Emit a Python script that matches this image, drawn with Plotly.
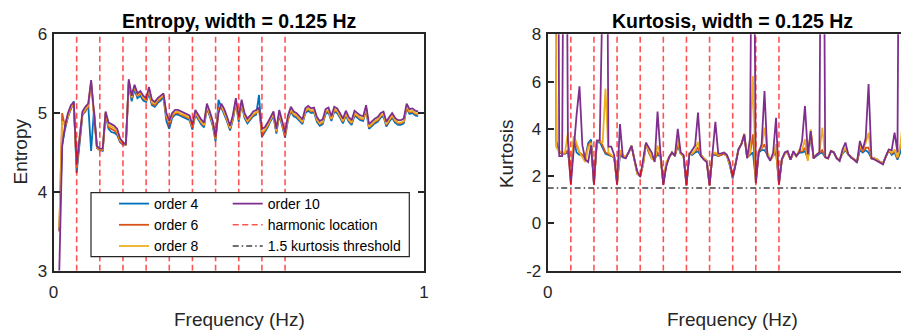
import numpy as np
import plotly.graph_objects as go

# ---------------- data ----------------
freq = (np.arange(2, 127) / 128).tolist()          # frequency grid (Hz)
harmonics = [0.0625, 0.125, 0.1875, 0.25, 0.3125, 0.375, 0.4375, 0.5, 0.5625, 0.625]
threshold = 1.5

entropy_o4 = [3.50, 4.60, 4.80, 4.95, 5.05, 5.15, 4.24, 4.66, 4.98, 5.02, 5.10, 4.52, 5.05, 4.56, 4.53, 4.52, 4.98, 4.80, 4.76, 4.75, 4.72, 4.63, 4.60, 4.60,
              5.38, 5.15, 5.30, 5.19, 5.22, 5.16, 5.14, 5.25, 5.10, 5.08, 5.13, 5.16, 5.20, 4.90, 4.80,
              4.94, 4.98, 4.98, 4.96, 4.94, 4.93, 4.91, 4.79, 4.98, 4.92,
              4.86, 4.82, 5.06, 4.96, 4.84, 4.64, 5.17, 5.07, 4.99, 4.89,
              4.78, 4.92, 5.13, 4.89, 5.11, 4.94, 4.87, 4.91, 4.96, 4.98,
              5.23, 4.70, 4.76, 4.82, 4.90, 4.96, 4.74, 4.98, 4.84, 4.69,
              4.91, 5.02, 4.96, 4.94, 4.90, 4.86, 5.00, 5.03, 5.00, 5.01,
              4.89, 4.84, 4.86, 4.99, 5.01, 4.90, 5.02, 5.00, 4.94, 4.87,
              4.97, 4.89, 4.85, 4.97, 4.94, 4.91, 4.90, 5.04, 4.80, 4.84,
              4.87, 4.89, 4.94, 4.96, 4.83, 4.89, 4.94, 4.88, 4.85, 4.85,
              4.87, 5.06, 4.99, 5.00, 4.97, 4.96]
entropy_o6 = [3.50, 5.00, 4.82, 4.96, 5.06, 5.12, 4.30, 4.68, 4.98, 5.03, 5.08, 5.38, 4.96, 4.56, 4.53, 4.53, 5.00, 4.82, 4.80, 4.78, 4.74, 4.64, 4.61, 4.60,
              5.40, 5.19, 5.33, 5.22, 5.25, 5.19, 5.16, 5.29, 5.12, 5.10, 5.15, 5.18, 5.22, 4.95, 4.86,
              4.96, 5.00, 5.00, 4.98, 4.96, 4.95, 4.93, 4.81, 5.00, 4.94,
              4.88, 4.84, 5.08, 4.98, 4.86, 4.67, 5.06, 5.08, 5.01, 4.91,
              4.80, 4.94, 5.15, 4.91, 5.13, 4.96, 4.89, 4.93, 4.98, 5.00,
              5.06, 4.72, 4.78, 4.84, 4.92, 4.98, 4.76, 5.00, 4.86, 4.71,
              4.93, 5.04, 4.98, 4.96, 4.92, 4.88, 5.02, 5.05, 5.02, 5.03,
              4.91, 4.86, 4.88, 5.01, 5.03, 4.92, 5.04, 5.02, 4.96, 4.89,
              4.99, 4.91, 4.87, 4.99, 4.96, 4.93, 4.92, 5.06, 4.82, 4.86,
              4.89, 4.91, 4.96, 4.98, 4.85, 4.91, 4.96, 4.90, 4.87, 4.87,
              4.89, 5.08, 5.01, 5.02, 4.99, 4.98]
entropy_o8 = [3.55, 4.90, 4.85, 4.98, 5.08, 5.12, 4.32, 4.70, 5.00, 5.05, 5.10, 5.40, 4.97, 4.57, 4.54, 4.54, 5.01, 4.85, 4.83, 4.81, 4.77, 4.66, 4.62, 4.60,
              5.41, 5.20, 5.34, 5.23, 5.26, 5.20, 5.17, 5.31, 5.14, 5.12, 5.17, 5.20, 5.23, 4.97, 4.88,
              4.98, 5.01, 5.02, 4.99, 4.98, 4.96, 4.94, 4.82, 5.02, 4.95,
              4.89, 4.85, 5.09, 4.99, 4.87, 4.68, 5.03, 5.10, 5.02, 4.92,
              4.81, 4.95, 5.16, 4.92, 5.14, 4.97, 4.90, 4.94, 4.99, 5.01,
              5.05, 4.76, 4.79, 4.85, 4.93, 4.99, 4.77, 5.01, 4.87, 4.72,
              4.94, 5.05, 4.99, 4.97, 4.93, 4.89, 5.03, 5.06, 5.03, 5.04,
              4.92, 4.87, 4.89, 5.02, 5.04, 4.93, 5.05, 5.03, 4.97, 4.90,
              5.00, 4.92, 4.88, 5.00, 4.97, 4.94, 4.93, 5.07, 4.83, 4.87,
              4.90, 4.92, 4.97, 4.99, 4.86, 4.92, 4.97, 4.91, 4.88, 4.88,
              4.90, 5.09, 5.02, 5.03, 5.00, 4.99]
entropy_o10 = [3.00, 4.58, 4.85, 5.00, 5.10, 5.14, 4.35, 4.72, 5.02, 5.08, 5.12, 5.42, 4.98, 4.58, 4.55, 4.55, 5.02, 4.88, 4.86, 4.84, 4.80, 4.68, 4.63, 4.60,
               5.43, 5.22, 5.36, 5.25, 5.28, 5.22, 5.19, 5.33, 5.17, 5.14, 5.19, 5.22, 5.25, 5.00, 4.90,
               5.00, 5.04, 5.04, 5.02, 5.00, 4.99, 4.97, 4.85, 5.04, 4.98,
               4.92, 4.88, 5.12, 5.02, 4.90, 4.70, 5.00, 5.12, 5.05, 4.95,
               4.84, 4.98, 5.19, 4.95, 5.17, 5.00, 4.93, 4.97, 5.02, 5.04,
               5.07, 4.80, 4.82, 4.88, 4.96, 5.02, 4.80, 5.04, 4.90, 4.75,
               4.97, 5.08, 5.02, 5.00, 4.96, 4.92, 5.06, 5.09, 5.06, 5.07,
               4.95, 4.90, 4.92, 5.05, 5.07, 4.96, 5.08, 5.06, 5.00, 4.93,
               5.03, 4.95, 4.91, 5.03, 5.00, 4.97, 4.96, 5.10, 4.86, 4.90,
               4.93, 4.95, 5.00, 5.02, 4.89, 4.95, 5.00, 4.94, 4.91, 4.91,
               4.93, 5.12, 5.05, 5.06, 5.03, 5.02]

kurtosis_o4 = [30, 3.5, 3.0, 2.95, 2.95, 3.0, 2.2, 3.5, 3.0,
               2.9, 2.9, 2.75, 3.4, 3.55, 1.7, 3.4, 3.45, 3.2, 2.95,
               2.9, 2.85, 2.8, 1.75, 2.9, 2.8, 2.8, 3.0, 3.28, 2.7,
               2.1, 2.0, 2.5, 3.4, 3.0, 2.75, 2.75, 2.9, 2.85, 1.7,
               2.5, 2.8, 3.0, 2.85, 3.3, 2.95, 2.85, 1.65, 2.95, 2.9,
               3.0, 3.05, 2.85, 2.75, 2.65, 1.65, 2.9, 2.9, 2.85, 2.9,
               2.95, 2.85, 2.45, 1.9, 2.5, 3.13, 3.35, 3.7, 2.8, 2.9,
               3.0, 1.85, 3.0, 3.1, 3.1, 2.9, 2.7, 2.85, 3.0, 1.75,
               2.7, 2.95, 3.0, 2.7, 3.0, 2.85, 3.0, 3.0, 3.06, 2.75,
               3.7, 2.75, 2.85, 2.95, 3.0, 2.8, 2.75, 3.06, 3.0, 2.75,
               2.7, 2.95, 3.1, 2.92, 2.8, 2.7, 2.6, 3.1, 3.0, 3.1,
               3.0, 2.75, 2.75, 2.7, 2.6, 2.55, 2.85, 3.1, 2.9, 3.0,
               2.7, 3.0, 3.63, 3.3, 3.3, 3.1]
kurtosis_o6 = [30, 3.3, 3.0, 2.95, 2.95, 3.1, 1.75, 3.5, 3.3,
               3.0, 2.9, 2.7, 3.3, 3.45, 1.65, 3.5, 3.5, 3.3, 3.0,
               2.95, 2.85, 2.8, 1.65, 3.0, 2.85, 2.8, 3.0, 3.28, 2.7,
               2.1, 2.0, 2.5, 3.4, 3.0, 2.75, 2.7, 3.0, 2.85, 1.65,
               2.5, 2.8, 3.0, 2.85, 3.4, 2.95, 2.85, 1.65, 2.95, 2.95,
               3.05, 3.2, 2.9, 2.75, 2.65, 1.62, 2.9, 2.95, 2.85, 2.9,
               2.95, 2.85, 2.5, 1.95, 2.5, 3.13, 3.35, 3.75, 2.8, 2.95,
               3.77, 1.7, 3.05, 3.15, 3.35, 2.95, 2.7, 2.85, 3.1, 1.65,
               2.7, 2.95, 3.0, 2.7, 3.0, 2.85, 3.05, 3.05, 3.2, 2.7,
               3.9, 2.75, 2.9, 3.0, 3.1, 2.8, 2.75, 3.06, 3.0, 2.75,
               2.7, 3.0, 3.15, 2.92, 2.8, 2.7, 2.6, 3.2, 3.05, 3.2,
               3.2, 2.75, 2.75, 2.7, 2.6, 2.55, 2.85, 3.1, 2.95, 3.1,
               2.75, 3.2, 3.77, 3.4, 3.35, 3.2]
kurtosis_o8 = [30, 3.2, 3.05, 3.0, 3.0, 3.84, 2.0, 3.7, 3.4,
               3.0, 2.8, 2.6, 3.2, 3.4, 1.7, 3.45, 3.5, 3.4, 5.7,
               3.0, 2.9, 2.8, 1.7, 3.1, 2.9, 2.8, 3.0, 3.28, 2.7,
               2.1, 2.0, 2.5, 3.35, 3.1, 2.75, 2.65, 3.3, 2.9, 1.7,
               2.6, 2.8, 3.0, 2.85, 3.6, 2.95, 2.85, 1.65, 2.95, 2.95,
               3.1, 3.45, 2.9, 2.75, 2.65, 1.62, 2.95, 3.0, 2.9, 2.95,
               3.0, 2.85, 2.5, 1.95, 2.5, 3.13, 3.35, 3.8, 2.8, 3.0,
               6.24, 1.75, 3.1, 3.2, 4.05, 3.0, 2.7, 2.85, 3.35, 1.7,
               2.7, 2.95, 3.0, 2.7, 3.0, 2.85, 3.1, 3.1, 3.56, 2.64,
               3.98, 2.75, 2.9, 3.0, 4.05, 2.8, 2.75, 3.06, 3.0, 2.75,
               2.7, 3.0, 3.2, 2.92, 2.8, 2.7, 2.6, 3.3, 3.1, 3.4,
               3.84, 2.75, 2.75, 2.7, 2.6, 2.55, 2.85, 3.1, 3.0, 3.1,
               2.8, 3.3, 4.5, 3.5, 3.3, 3.2]
kurtosis_o10 = [40, 30, 2.85, 2.85, 25, 3.5, 1.65, 3.3, 4.6,
                5.8, 3.3, 2.7, 2.6, 3.3, 1.65, 3.5, 3.5, 10, 25,
                3.25, 3.25, 2.9, 1.65, 4.2, 2.8, 2.75, 3.0, 3.28, 2.7,
                2.2, 1.97, 2.7, 3.42, 3.2, 3.0, 2.6, 4.73, 3.0, 1.63,
                2.4, 2.8, 3.0, 2.85, 4.0, 3.0, 2.9, 1.6, 2.92, 3.1,
                3.3, 4.69, 2.85, 2.7, 2.6, 1.6, 3.0, 4.3, 2.95, 2.95,
                3.0, 2.9, 2.6, 1.96, 2.5, 3.13, 3.35, 3.77, 2.75, 3.6,
                20, 1.7, 3.0, 3.35, 5.6, 2.85, 2.65, 3.0, 4.47, 1.65,
                2.71, 3.0, 3.06, 2.7, 3.06, 2.85, 3.0, 3.5, 4.97, 2.92,
                3.9, 2.75, 2.9, 3.0, 25, 2.8, 2.75, 3.06, 3.0, 2.75,
                2.64, 3.13, 3.42, 2.92, 2.78, 2.7, 2.57, 3.49, 3.13, 3.6,
                5.9, 2.75, 2.71, 2.64, 2.55, 2.5, 2.85, 3.13, 3.1, 3.84,
                3.0, 25, 3.0, 3.7, 3.35, 3.2]

series_names = ["order 4", "order 6", "order 8", "order 10"]
series_colors = ["#0072BD", "#D95319", "#EDB120", "#7E2F8E"]
entropy_series = [entropy_o4, entropy_o6, entropy_o8, entropy_o10]
kurtosis_series = [kurtosis_o4, kurtosis_o6, kurtosis_o8, kurtosis_o10]
entropy_range = [3, 6]
kurtosis_range = [-2, 8]

# ---------------- figure ----------------
# The page body has an 8px default margin, so the figure is sized to fill
# the remaining 901x323 of the 909x331 window.
OFF = 8
W, H = 909 - OFF, 331 - OFF
AX = "#262626"
FONT = "Liberation Sans, Arial, Helvetica, sans-serif"
HARM_COLOR = "rgba(255,0,0,0.68)"
THR_COLOR = "#404040"
LW = 1.8


def px_x(p):
    """screen x (px) -> paper fraction"""
    return (p - OFF) / W


def px_y(p):
    """screen y (px, from top) -> paper fraction"""
    return 1 - (p - OFF) / H


fig = go.Figure()

legend_of = {"order 4": "legend", "order 6": "legend", "order 8": "legend", "order 10": "legend2"}

# Left panel: entropy
for name, col, ys in zip(series_names, series_colors, entropy_series):
    fig.add_trace(go.Scatter(x=freq, y=ys, mode="lines", name=name,
                             line=dict(color=col, width=LW),
                             xaxis="x", yaxis="y", legend=legend_of[name]))


def harmonic_xy(yr):
    hx, hy = [], []
    for h in harmonics:
        hx += [h, h, None]
        hy += [yr[0], yr[1], None]
    return hx, hy


hx, hy = harmonic_xy(entropy_range)
fig.add_trace(go.Scatter(x=hx, y=hy, mode="lines", name="harmonic location",
                         line=dict(color=HARM_COLOR, width=1.6, dash="6px,3.5px"),
                         xaxis="x", yaxis="y", legend="legend2"))
fig.add_trace(go.Scatter(x=[0, 1], y=[threshold, threshold], mode="lines",
                         name="1.5 kurtosis threshold",
                         line=dict(color=THR_COLOR, width=1.5, dash="6px,3px,1.5px,3px"),
                         xaxis="x", yaxis="y", legend="legend2"))

# Right panel: kurtosis
for name, col, ys in zip(series_names, series_colors, kurtosis_series):
    fig.add_trace(go.Scatter(x=freq, y=ys, mode="lines", name=name,
                             line=dict(color=col, width=LW),
                             xaxis="x2", yaxis="y2", showlegend=False))
hx2, hy2 = harmonic_xy(kurtosis_range)
fig.add_trace(go.Scatter(x=hx2, y=hy2, mode="lines", name="harmonic location",
                         line=dict(color=HARM_COLOR, width=1.6, dash="6px,3.5px"),
                         xaxis="x2", yaxis="y2", showlegend=False))
fig.add_trace(go.Scatter(x=[0, 1], y=[threshold, threshold], mode="lines",
                         name="1.5 kurtosis threshold",
                         line=dict(color=THR_COLOR, width=1.5, dash="6px,3px,1.5px,3px"),
                         xaxis="x2", yaxis="y2", showlegend=False))

ydom = [px_y(270.7), px_y(34.3)]
common = dict(showgrid=False, zeroline=False, showline=True, linecolor=AX, linewidth=2,
              ticks="inside", ticklen=6, tickwidth=1.5, tickcolor=AX, automargin=False,
              tickfont=dict(size=17, color=AX, family=FONT), fixedrange=True)

fig.update_layout(
    template="none",
    width=W, height=H,
    margin=dict(l=0, r=0, t=0, b=0, pad=0, autoexpand=False),
    paper_bgcolor="white", plot_bgcolor="white",
    font=dict(family=FONT, color=AX),
    xaxis=dict(domain=[px_x(53.5), px_x(424)], range=[0, 1], anchor="y",
               tickvals=[0, 1], ticktext=["0", "1"], mirror="ticks",
               ticklabelstandoff=5, **common),
    yaxis=dict(domain=ydom, range=entropy_range, anchor="x",
               tickvals=[3, 4, 5, 6], ticktext=["3", "4", "5", "6"], mirror="ticks",
               ticklabelstandoff=1, **common),
    xaxis2=dict(domain=[px_x(547.7), 1], range=[0, (909 - 547.7) / 370], anchor="y2",
                tickvals=[0, 1], ticktext=["0", "1"], mirror=True,
                ticklabelstandoff=5, **common),
    yaxis2=dict(domain=ydom, range=kurtosis_range, anchor="x2",
                tickvals=[-2, 0, 2, 4, 6, 8], ticktext=["-2", "0", "2", "4", "6", "8"],
                mirror=False, ticklabelstandoff=1, **common),
    legend=dict(x=px_x(114), y=px_y(188), xanchor="left", yanchor="top",
                bgcolor="rgba(0,0,0,0)", borderwidth=0, font=dict(size=14, color="#000000"),
                orientation="v", tracegroupgap=0),
    legend2=dict(x=px_x(227.7), y=px_y(188), xanchor="left", yanchor="top",
                 bgcolor="rgba(0,0,0,0)", borderwidth=0, font=dict(size=14, color="#000000"),
                 orientation="v", tracegroupgap=0),
    showlegend=True,
)

# legend frame
fig.add_shape(type="rect", xref="paper", yref="paper",
              x0=px_x(91), x1=px_x(409.3), y0=px_y(256.7), y1=px_y(192.7),
              line=dict(color=AX, width=1.2), fillcolor="white", layer="above")

# titles and axis labels
ann = [
    dict(text="<b>Entropy, width = 0.125 Hz</b>", x=px_x(239), y=px_y(20.7), size=19.5, angle=0),
    dict(text="<b>Kurtosis, width = 0.125 Hz</b>", x=px_x(732.6), y=px_y(20.7), size=19.5, angle=0),
    dict(text="Frequency (Hz)", x=px_x(239), y=px_y(319), size=19, angle=0),
    dict(text="Frequency (Hz)", x=px_x(732.6), y=px_y(319), size=19, angle=0),
    dict(text="Entropy", x=px_x(19.5), y=px_y(152), size=19, angle=-90),
    dict(text="Kurtosis", x=px_x(505.8), y=px_y(153.3), size=19, angle=-90),
]
for a in ann:
    fig.add_annotation(text=a["text"], x=a["x"], y=a["y"], xref="paper", yref="paper",
                       xanchor="center", yanchor="middle", showarrow=False,
                       textangle=a["angle"], font=dict(size=a["size"], color="#000000" if "<b>" in a["text"] else AX, family=FONT))

fig.write_html("out.html")
